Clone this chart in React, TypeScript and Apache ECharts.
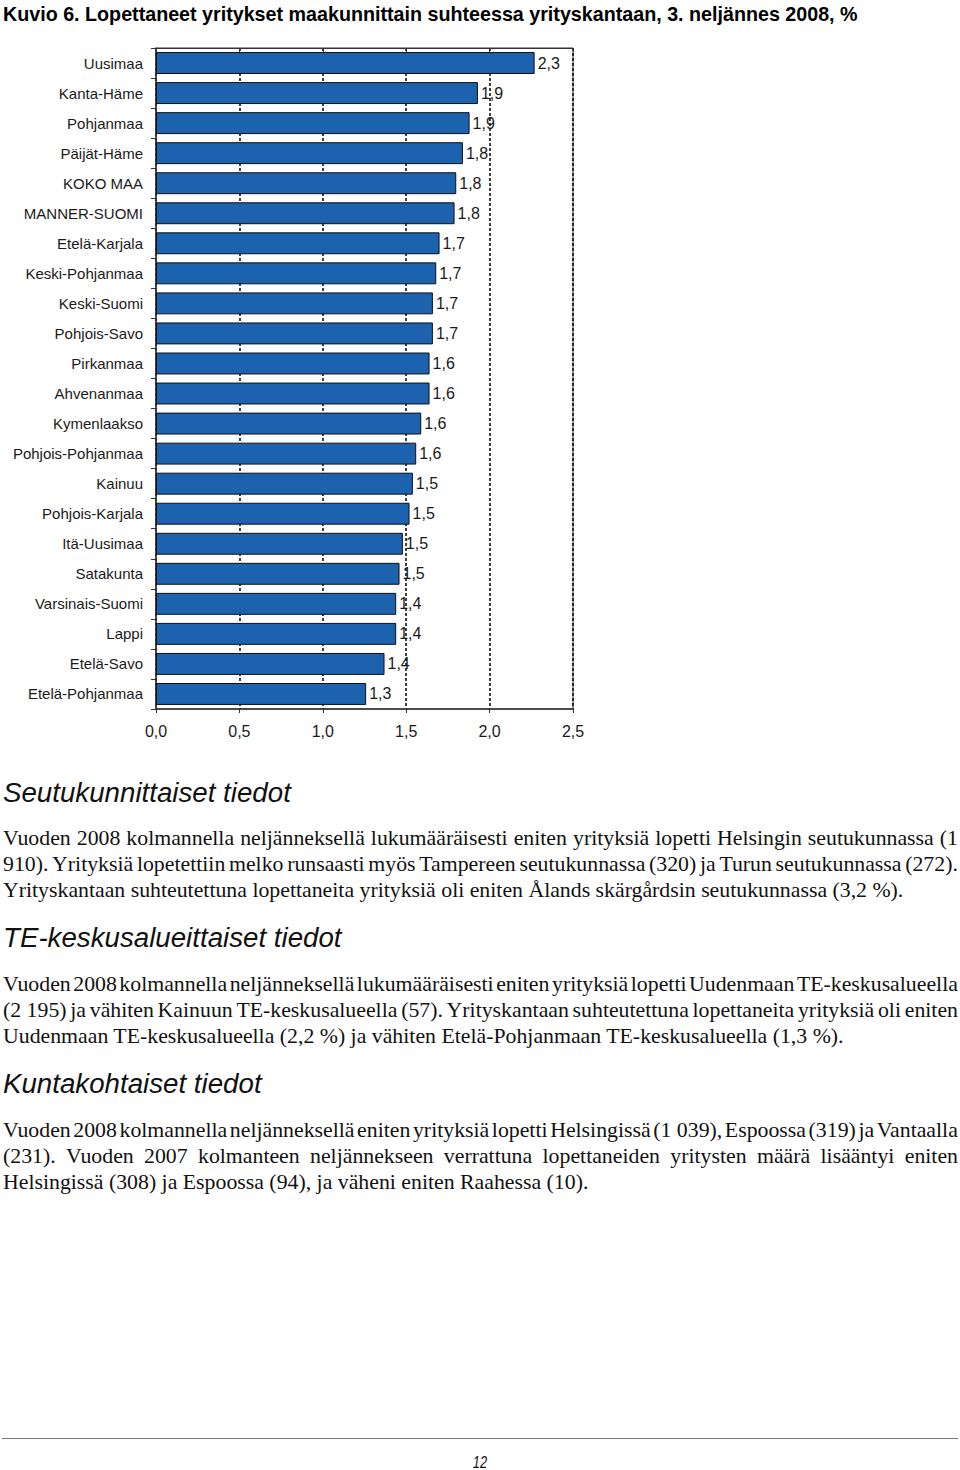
import React, { useEffect, useRef } from "react";
import * as echarts from "echarts";

const regions = [
  "Uusimaa", "Kanta-Häme", "Pohjanmaa", "Päijät-Häme", "KOKO MAA", "MANNER-SUOMI",
  "Etelä-Karjala", "Keski-Pohjanmaa", "Keski-Suomi", "Pohjois-Savo", "Pirkanmaa",
  "Ahvenanmaa", "Kymenlaakso", "Pohjois-Pohjanmaa", "Kainuu", "Pohjois-Karjala",
  "Itä-Uusimaa", "Satakunta", "Varsinais-Suomi", "Lappi", "Etelä-Savo", "Etelä-Pohjanmaa",
];
const shares = [
  2.27, 1.93, 1.88, 1.84, 1.8, 1.79, 1.7, 1.68, 1.66, 1.66, 1.64, 1.64, 1.59, 1.56,
  1.54, 1.52, 1.48, 1.46, 1.44, 1.44, 1.37, 1.26,
];
const xTicks = { min: 0, max: 2.5, interval: 0.5 };

const titleText =
  "Kuvio 6. Lopettaneet yritykset maakunnittain suhteessa yrityskantaan, 3. neljännes 2008, %";

type Line = { t: string; y: number; j?: boolean };
const headings: Line[] = [
  { t: "Seutukunnittaiset tiedot", y: 793 },
  { t: "TE-keskusalueittaiset tiedot", y: 938 },
  { t: "Kuntakohtaiset tiedot", y: 1084 },
];
const paraLines: Line[] = [
  { t: "Vuoden 2008 kolmannella neljänneksellä lukumääräisesti eniten yrityksiä lopetti Helsingin seutukunnassa (1", y: 838, j: true },
  { t: "910). Yrityksiä lopetettiin melko runsaasti myös Tampereen seutukunnassa (320) ja Turun seutukunnassa (272).", y: 864, j: true },
  { t: "Yrityskantaan suhteutettuna lopettaneita yrityksiä oli eniten Ålands skärgårdsin seutukunnassa (3,2 %).", y: 890 },
  { t: "Vuoden 2008 kolmannella neljänneksellä lukumääräisesti eniten yrityksiä lopetti Uudenmaan TE-keskusalueella", y: 984, j: true },
  { t: "(2\u00a0195) ja vähiten Kainuun TE-keskusalueella (57). Yrityskantaan suhteutettuna lopettaneita yrityksiä oli eniten", y: 1010, j: true },
  { t: "Uudenmaan TE-keskusalueella (2,2 %) ja vähiten Etelä-Pohjanmaan TE-keskusalueella (1,3 %).", y: 1036 },
  { t: "Vuoden 2008 kolmannella neljänneksellä eniten yrityksiä lopetti Helsingissä (1\u00a0039), Espoossa (319) ja Vantaalla", y: 1130, j: true },
  { t: "(231). Vuoden 2007 kolmanteen neljännekseen verrattuna lopettaneiden yritysten määrä lisääntyi eniten", y: 1156, j: true },
  { t: "Helsingissä (308) ja Espoossa (94), ja väheni eniten Raahessa (10).", y: 1182 },
];

const fmt = (v: number) => (Math.round(v * 10) / 10).toFixed(1).replace(".", ",");

const SERIF = "'Liberation Serif', 'Times New Roman', serif";
const SANS = "'Liberation Sans', Arial, sans-serif";

function Chart() {
  const ref = useRef<HTMLDivElement>(null);
  useEffect(() => {
    if (!ref.current) return;
    const chart = echarts.init(ref.current, undefined, { renderer: "svg" });
    const axisColor = "#333";
    chart.setOption({
      animation: false,
      textStyle: { fontFamily: SANS },
      grid: {
        left: 156, top: 48, width: 417, height: 661,
        show: true, borderColor: axisColor, borderWidth: 1, backgroundColor: "transparent",
      },
      xAxis: [
        {
          type: "value", ...xTicks, position: "bottom",
          axisLine: { show: true, lineStyle: { color: axisColor, width: 1.5 } },
          axisTick: { show: true, length: 4, lineStyle: { color: axisColor } },
          axisLabel: { formatter: (v: number) => fmt(v), fontSize: 16, color: "#1a1a1a", margin: 14, fontFamily: SANS },
          splitLine: { show: true, lineStyle: { type: [3, 2], color: "#111", width: 1.6 } },
        },
        {
          type: "value", ...xTicks, position: "top",
          axisLine: { show: true, lineStyle: { color: axisColor } },
          axisTick: { show: true, inside: true, length: 4, lineStyle: { color: axisColor } },
          axisLabel: { show: false },
          splitLine: { show: false },
        },
      ],
      yAxis: {
        type: "category", data: regions, inverse: true,
        axisLine: { show: true, lineStyle: { color: axisColor, width: 1.5 } },
        axisTick: { show: true, length: 5, lineStyle: { color: axisColor } },
        axisLabel: { fontSize: 15, color: "#1a1a1a", margin: 13, fontFamily: SANS },
      },
      series: [
        {
          type: "bar", data: shares, xAxisIndex: 0, barCategoryGap: "27%",
          itemStyle: { color: "#1d62ae", borderColor: "#111", borderWidth: 1 },
          label: {
            show: true, position: "right", distance: 3, fontSize: 16, color: "#1a1a1a",
            fontFamily: SANS, formatter: (p: any) => fmt(p.value),
          },
        },
      ],
    });
    return () => chart.dispose();
  }, []);
  return <div ref={ref} style={{ position: "absolute", left: 0, top: 0, width: 960, height: 760 }} />;
}

export default function App() {
  return (
    <div style={{ position: "absolute", left: 0, top: 0, width: 960, height: 1470, background: "#fff", overflow: "hidden" }}>
      <div style={{ position: "absolute", left: 3, top: 2, fontFamily: SANS, fontWeight: "bold", fontSize: 19.7, lineHeight: "24px", color: "#000", whiteSpace: "nowrap" }}>
        {titleText}
      </div>
      <Chart />
      {headings.map((h, i) => (
        <div key={"h" + i} style={{ position: "absolute", left: 3, top: h.y - 17, fontFamily: SANS, fontStyle: "italic", fontSize: 27.7, lineHeight: "34px", color: "#111", whiteSpace: "nowrap" }}>
          {h.t}
        </div>
      ))}
      {paraLines.map((l, i) => (
        <div key={"p" + i} style={{
          position: "absolute", left: 3, top: l.y - 13, width: l.j ? 955 : undefined,
          fontFamily: SERIF, fontSize: 21.8, lineHeight: "26px", color: "#111", whiteSpace: "nowrap",
          display: l.j ? "flex" : "block", justifyContent: "space-between",
        }}>
          {l.j ? l.t.split(" ").map((w, k) => <span key={k}>{w}</span>) : l.t}
        </div>
      ))}
      <div style={{ position: "absolute", left: 2, top: 1438, width: 956, height: 0, borderTop: "1px solid #777" }} />
      <div style={{ position: "absolute", left: 0, width: 960, top: 1452, textAlign: "center", fontFamily: SANS, fontStyle: "italic", fontSize: 16, lineHeight: "22px", color: "#111" }}>
        <span style={{ display: "inline-block", transform: "scaleX(0.8)" }}>12</span>
      </div>
    </div>
  );
}
